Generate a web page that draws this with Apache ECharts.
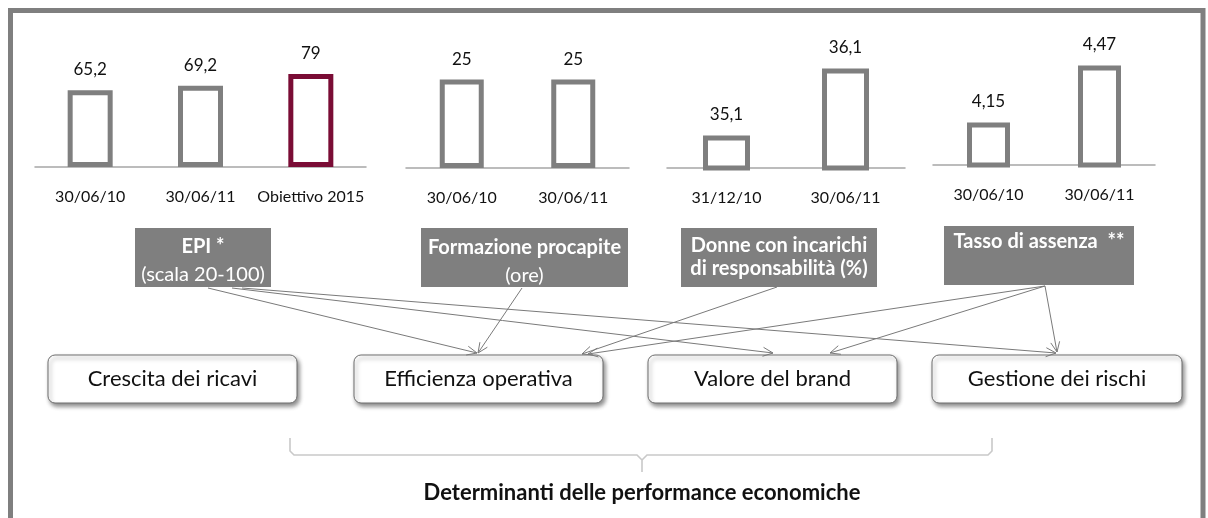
<!DOCTYPE html>
<html>
<head>
<meta charset="utf-8">
<script src="https://cdn.jsdelivr.net/npm/echarts@6/dist/echarts.min.js"></script>
<style>
  html, body { margin: 0; padding: 0; background: #fff; }
  #chart { width: 1208px; height: 518px; }
</style>
</head>
<body>
<div id="chart"></div>
<script>
// dati dei quattro indicatori
const epiCategories = ['30/06/10', '30/06/11', 'Obiettivo 2015']
const epiValues = [65.2, 69.2, 79]
const formazioneCategories = ['30/06/10', '30/06/11']
const formazioneValues = [25, 25]
const donneCategories = ['31/12/10', '30/06/11']
const donneValues = [35.1, 36.1]
const assenzaCategories = ['30/06/10', '30/06/11']
const assenzaValues = [4.15, 4.47]
const targetCategory = 'Obiettivo 2015'

// schema sotto i grafici
const driverLabels = [
  [{ text: 'EPI *', bold: true }, { text: '(scala 20-100)' }],
  [{ text: 'Formazione procapite', bold: true }, { text: '(ore)' }],
  [{ text: 'Donne con incarichi', bold: true }, { text: 'di responsabilità (%)', bold: true }],
  [{ text: 'Tasso di assenza  **', bold: true }]
]
const outcomeLabels = ['Crescita dei ricavi', 'Efficienza operativa', 'Valore del brand', 'Gestione dei rischi']
const links = [[0, 1], [0, 2], [0, 3], [1, 1], [2, 1], [3, 1], [3, 2], [3, 3]]
const footerTitle = 'Determinanti delle performance economiche'

const FONT = 'Lato, "Open Sans", sans-serif'
const GREY = '#7f7f7f'
const TARGET = '#7a0c35'

// posizione dei pannelli (px) e scala verticale di ciascuno
const panels = [
  { cats: epiCategories, values: epiValues, left: 35, width: 331, top: 40, height: 127, min: 0, max: 108, barWidth: 45 },
  { cats: formazioneCategories, values: formazioneValues, left: 406, width: 223, top: 40, height: 128, min: 0, max: 36.2, barWidth: 44 },
  { cats: donneCategories, values: donneValues, left: 667, width: 238, top: 40, height: 128, min: 34.615, max: 36.525, barWidth: 47 },
  { cats: assenzaCategories, values: assenzaValues, left: 933, width: 222, top: 40, height: 125, min: 3.911, max: 4.613, barWidth: 43 }
]

const driverBoxes = [
  { x: 135, y: 228, w: 136, h: 59, lineY: [247, 275] },
  { x: 421, y: 228, w: 207, h: 59, lineY: [248, 276] },
  { x: 681, y: 228, w: 196, h: 59, lineY: [246, 269] },
  { x: 944, y: 226, w: 190, h: 59, lineY: [242] }
]
const outcomeBoxes = [
  { x: 48, y: 355, w: 249, h: 48 },
  { x: 354, y: 355, w: 249, h: 48 },
  { x: 648, y: 355, w: 249, h: 48 },
  { x: 932, y: 355, w: 250, h: 48 }
]
// punti di partenza/arrivo delle frecce, stesso ordine di links
const linkPoints = [
  [208, 288, 477, 353],
  [232, 288, 773, 353],
  [242, 288, 1056, 353],
  [522, 288, 478, 353],
  [777, 287, 582, 354],
  [1045, 286, 588, 354],
  [1045, 286, 830, 353],
  [1045, 286, 1057, 352]
]

const arrowHead = (x1, y1, x2, y2) => {
  const a = Math.atan2(y2 - y1, x2 - x1)
  const L = 11, s = 0.42
  return [
    [x2 - L * Math.cos(a - s), y2 - L * Math.sin(a - s)],
    [x2, y2],
    [x2 - L * Math.cos(a + s), y2 - L * Math.sin(a + s)]
  ]
}

const graphics = []

// cornice
graphics.push({
  type: 'rect', silent: true,
  shape: { x: 10.5, y: 10.5, width: 1192.5, height: 540 },
  style: { fill: 'transparent', stroke: GREY, lineWidth: 5 }
})

// riquadri grigi degli indicatori
driverBoxes.forEach((b, i) => {
  graphics.push({
    type: 'rect', shape: { x: b.x, y: b.y, width: b.w, height: b.h },
    style: { fill: GREY }
  })
  driverLabels[i].forEach((line, j) => {
    graphics.push({
      type: 'text', z: 10,
      style: {
        text: line.text, x: b.x + b.w / 2, y: b.lineY[j],
        textAlign: 'center', textVerticalAlign: 'middle',
        fill: '#fff', fontFamily: FONT, fontSize: 20,
        fontWeight: line.bold ? 'bold' : 'normal'
      }
    })
  })
})

// riquadri arrotondati
outcomeBoxes.forEach((b, i) => {
  graphics.push({
    type: 'rect', z: 5,
    shape: { x: b.x, y: b.y, width: b.w, height: b.h, r: 7 },
    style: {
      fill: '#fff', stroke: '#6f6f6f', lineWidth: 1,
      shadowBlur: 4, shadowColor: 'rgba(0,0,0,0.45)', shadowOffsetX: 2, shadowOffsetY: 3
    }
  })
  graphics.push({
    type: 'text', z: 6,
    style: {
      text: outcomeLabels[i], x: b.x + b.w / 2, y: b.y + b.h / 2,
      textAlign: 'center', textVerticalAlign: 'middle',
      fill: '#111', fontFamily: FONT, fontSize: 22
    }
  })
})

// frecce
links.forEach((lk, i) => {
  const [x1, y1, x2, y2] = linkPoints[i]
  graphics.push({
    type: 'line', z: 8,
    shape: { x1, y1, x2, y2 },
    style: { stroke: '#7a7a7a', lineWidth: 1 }
  })
  graphics.push({
    type: 'polyline', z: 8,
    shape: { points: arrowHead(x1, y1, x2, y2) },
    style: { stroke: '#7a7a7a', lineWidth: 1, fill: null }
  })
})

// parentesi graffa
graphics.push({
  type: 'polyline',
  shape: { points: [[290, 438], [290, 451], [294, 455], [637, 455], [642, 460], [642, 472]] },
  style: { stroke: '#c9c9c9', lineWidth: 1.6, fill: null }
})
graphics.push({
  type: 'polyline',
  shape: { points: [[642, 460], [647, 455], [988, 455], [992, 451], [992, 438]] },
  style: { stroke: '#c9c9c9', lineWidth: 1.6, fill: null }
})
graphics.push({
  type: 'text',
  style: {
    text: footerTitle, x: 642, y: 493,
    textAlign: 'center', textVerticalAlign: 'middle',
    fill: '#111', fontFamily: FONT, fontSize: 22, fontWeight: 'bold'
  }
})

const option = {
  animation: false,
  backgroundColor: '#fff',
  grid: panels.map(p => ({ left: p.left, top: p.top, width: p.width, height: p.height })),
  xAxis: panels.map((p, i) => ({
    type: 'category', gridIndex: i, data: p.cats,
    axisLine: { lineStyle: { color: '#a6a6a6', width: 1.5 } },
    axisTick: { show: false },
    axisLabel: { margin: 22, color: '#111', fontFamily: FONT, fontSize: 16, interval: 0 }
  })),
  yAxis: panels.map((p, i) => ({
    type: 'value', gridIndex: i, min: p.min, max: p.max, show: false,
    splitLine: { show: false }
  })),
  series: panels.map((p, i) => ({
    type: 'bar', xAxisIndex: i, yAxisIndex: i, barWidth: p.barWidth, clip: true,
    data: p.values.map((v, k) => ({
      value: v,
      itemStyle: { borderColor: p.cats[k] === targetCategory ? TARGET : GREY }
    })),
    itemStyle: { color: '#fff', borderWidth: 5, borderColor: GREY },
    label: {
      show: true, position: 'top', distance: 12,
      color: '#111', fontFamily: FONT, fontSize: 17,
      formatter: (params) => String(params.value).replace('.', ',')
    }
  })),
  graphic: graphics
}

const chart = echarts.init(document.getElementById('chart'))
chart.setOption(option)
window.addEventListener('resize', () => chart.resize())
</script>
</body>
</html>
